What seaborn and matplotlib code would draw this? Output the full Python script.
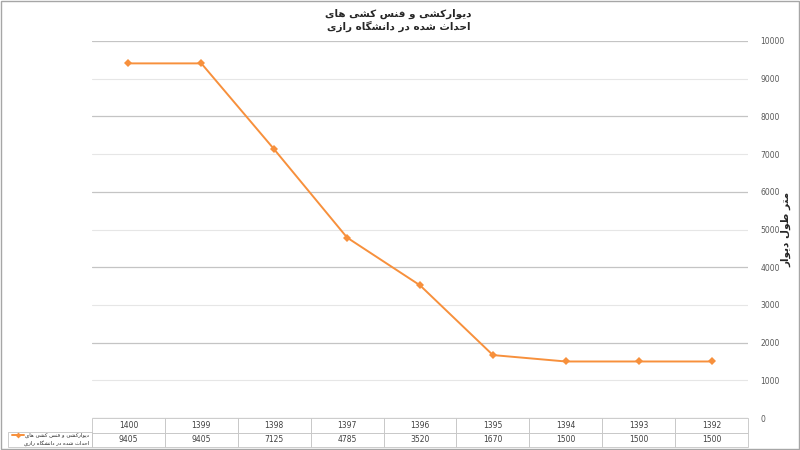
# -*- coding: utf-8 -*-
"""
دیوارکشی و فنس کشی های احداث شده در دانشگاه رازی
line chart with data table underneath (Excel style)
"""
import numpy as np
import pandas as pd
import matplotlib
matplotlib.use('Agg')
import matplotlib.pyplot as plt
from matplotlib.ticker import MultipleLocator, FormatStrFormatter
from matplotlib.patches import Rectangle
from matplotlib.lines import Line2D
import seaborn as sns

# data
years = ['1400', '1399', '1398', '1397', '1396', '1395', '1394', '1393', '1392']
wall_length = [9405, 9405, 7125, 4785, 3520, 1670, 1500, 1500, 1500]

title_lines = ['دیوارکشی و فنس کشی های', 'احداث شده در دانشگاه رازی']
series_lines = ['دیوارکشی و فنس کشی های', 'احداث شده در دانشگاه رازی']
y_label = 'متر طول دیوار'

LINE_COLOR = '#F7903C'
GRID_DARK = '#c4c4c4'
GRID_LIGHT = '#e6e6e6'
TEXT_GRAY = '#595959'

# arabic presentation forms: isolated, final, initial, medial
FORMS = {
    'ا': ('\uFE8D', '\uFE8E', None, None),
    'ت': ('\uFE95', '\uFE96', '\uFE97', '\uFE98'),
    'ث': ('\uFE99', '\uFE9A', '\uFE9B', '\uFE9C'),
    'ح': ('\uFEA1', '\uFEA2', '\uFEA3', '\uFEA4'),
    'د': ('\uFEA9', '\uFEAA', None, None),
    'ر': ('\uFEAD', '\uFEAE', None, None),
    'ز': ('\uFEAF', '\uFEB0', None, None),
    'س': ('\uFEB1', '\uFEB2', '\uFEB3', '\uFEB4'),
    'ش': ('\uFEB5', '\uFEB6', '\uFEB7', '\uFEB8'),
    'ط': ('\uFEC1', '\uFEC2', '\uFEC3', '\uFEC4'),
    'ف': ('\uFED1', '\uFED2', '\uFED3', '\uFED4'),
    'ل': ('\uFEDD', '\uFEDE', '\uFEDF', '\uFEE0'),
    'م': ('\uFEE1', '\uFEE2', '\uFEE3', '\uFEE4'),
    'ن': ('\uFEE5', '\uFEE6', '\uFEE7', '\uFEE8'),
    'ه': ('\uFEE9', '\uFEEA', '\uFEEB', '\uFEEC'),
    'و': ('\uFEED', '\uFEEE', None, None),
    'ی': ('\uFBFC', '\uFBFD', '\uFBFE', '\uFBFF'),
    'ک': ('\uFB8E', '\uFB8F', '\uFB90', '\uFB91'),
    'گ': ('\uFB92', '\uFB93', '\uFB94', '\uFB95'),
}


def shape(text):
    """naive persian shaping + RTL reversal (matplotlib has no bidi)"""
    out = []
    n = len(text)
    for i, ch in enumerate(text):
        if ch not in FORMS:
            out.append(ch)
            continue
        iso, fin, ini, med = FORMS[ch]
        prev = text[i - 1] if i > 0 else ''
        nxt = text[i + 1] if i < n - 1 else ''
        join_prev = prev in FORMS and FORMS[prev][2] is not None
        join_next = ini is not None and nxt in FORMS
        if join_prev and join_next:
            out.append(med)
        elif join_prev:
            out.append(fin)
        elif join_next:
            out.append(ini)
        else:
            out.append(iso)
    return ''.join(reversed(out))


sns.set_style('white')
plt.rcParams['font.family'] = ['DejaVu Sans']

df = pd.DataFrame({'pos': np.arange(len(years)), 'value': wall_length})

fig = plt.figure(figsize=(8, 4.5), dpi=100)
ax = fig.add_axes([0.115, 0.071, 0.82, 0.838])

sns.lineplot(data=df, x='pos', y='value', ax=ax, color=LINE_COLOR,
             linewidth=1.4, marker='D', markersize=4, markeredgewidth=0)

ax.set_xlim(-0.5, len(years) - 0.5)
ax.set_ylim(0, 10000)
ax.set_xticks([])
ax.set_xlabel('')

# y axis on the right
ax.yaxis.tick_right()
ax.yaxis.set_major_locator(MultipleLocator(2000))
ax.yaxis.set_minor_locator(MultipleLocator(1000))
ax.yaxis.set_major_formatter(FormatStrFormatter('%d'))
ax.yaxis.set_minor_formatter(FormatStrFormatter('%d'))
ax.tick_params(axis='y', which='both', length=0, pad=9,
               labelsize=5.5, labelcolor=TEXT_GRAY)
ax.grid(True, axis='y', which='major', color=GRID_DARK, linewidth=0.9)
ax.grid(True, axis='y', which='minor', color=GRID_LIGHT, linewidth=0.8)
ax.set_axisbelow(True)
for s in ax.spines.values():
    s.set_visible(False)

ax.yaxis.set_label_position('right')
ax.set_ylabel(shape(y_label), rotation=90, fontsize=7.5, fontweight='bold')
ax.yaxis.set_label_coords(1.05, 0.5)

# title
fig.text(0.498, 0.970, shape(title_lines[0]), ha='center', va='center',
         fontsize=7.5, fontweight='bold')
fig.text(0.498, 0.942, shape(title_lines[1]), ha='center', va='center',
         fontsize=7.5, fontweight='bold')

# data table
tbl = ax.table(cellText=[[str(v) for v in wall_length]], colLabels=years,
               cellLoc='center', bbox=[0, -0.077, 1, 0.077])
tbl.auto_set_font_size(False)
tbl.set_fontsize(5.5)
for cell in tbl.get_celld().values():
    cell.set_edgecolor(GRID_DARK)
    cell.set_linewidth(0.6)
    cell.get_text().set_color('#404040')

# row label cell with legend key
ax.add_patch(Rectangle((-0.128, -0.077), 0.128, 0.040, transform=ax.transAxes,
                       fill=False, edgecolor=GRID_DARK, linewidth=0.6,
                       clip_on=False))
ax.add_line(Line2D([-0.122, -0.104], [-0.046, -0.046], transform=ax.transAxes,
                   color=LINE_COLOR, linewidth=1.4, clip_on=False))
ax.add_line(Line2D([-0.113], [-0.046], transform=ax.transAxes,
                   color=LINE_COLOR, marker='D', markersize=3,
                   markeredgewidth=0, clip_on=False))
ax.text(-0.004, -0.046, shape(series_lines[0]), transform=ax.transAxes,
        ha='right', va='center', fontsize=3.9)
ax.text(-0.004, -0.066, shape(series_lines[1]), transform=ax.transAxes,
        ha='right', va='center', fontsize=3.9)

# outer border
fig.patches.append(Rectangle((0.001, 0.002), 0.998, 0.996,
                             transform=fig.transFigure, fill=False,
                             edgecolor='#a6a6a6', linewidth=1))

fig.savefig('out.png', dpi=100)
plt.close(fig)
